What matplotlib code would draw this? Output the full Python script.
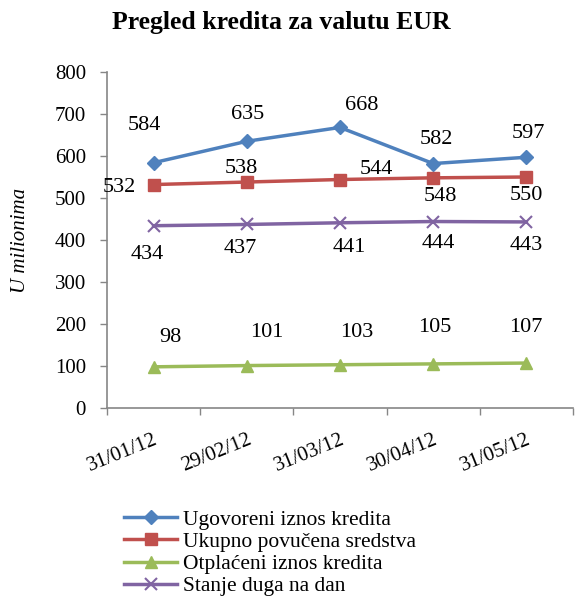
import matplotlib
matplotlib.use('Agg')
import matplotlib.pyplot as plt
import numpy as np

plt.rcParams['font.family'] = ['Liberation Serif', 'DejaVu Serif']

# Data
dates = ['31/01/12', '29/02/12', '31/03/12', '30/04/12', '31/05/12']
ugovoreni = [584, 635, 668, 582, 597]
povucena = [532, 538, 544, 548, 550]
otplaceni = [98, 101, 103, 105, 107]
stanje = [434, 437, 441, 444, 443]

series_names = ['Ugovoreni iznos kredita', 'Ukupno povučena sredstva',
                'Otplaćeni iznos kredita', 'Stanje duga na dan']

# Label offsets in pixels (dx, dy) per point, as placed in the original
label_offsets = {
    0: [(-9, 37), (1, 27), (22, 22), (3, 24), (2, 24)],
    1: [(-34, -3), (-5, 14), (36, 10), (7, -19), (0, -19)],
    2: [(17, 29), (20, 33), (17, 32), (2, 36), (-1, 36)],
    3: [(-6, -29), (-7, -24), (9, -25), (5, -22), (0, -24)],
}

colors = ['#4F81BD', '#C0504D', '#9BBB59', '#8064A2']
markers = ['D', 's', '^', 'x']
msizes = [7, 9, 9, 9]

fig = plt.figure(figsize=(5.75, 6.03), dpi=100)
ax = fig.add_axes([0.186, 0.3234, 0.8105, 0.5572])

x = np.arange(len(dates)) + 0.5
all_series = [ugovoreni, povucena, otplaceni, stanje]

for i, vals in enumerate(all_series):
    ax.plot(x, vals, color=colors[i], marker=markers[i], markersize=msizes[i],
            linewidth=2.5, markeredgewidth=1.5 if markers[i] == 'x' else 1,
            label=series_names[i])
    for j, v in enumerate(vals):
        dx, dy = label_offsets[i][j]
        ax.annotate(str(v), (x[j], v), xytext=(dx * 0.72, dy * 0.72),
                    textcoords='offset points', ha='center', va='center',
                    fontsize=16)

ax.set_xlim(0, len(dates))
ax.set_ylim(0, 800)
ax.set_yticks(range(0, 801, 100))
ax.set_xticks(np.arange(len(dates) + 1))
ax.set_xticklabels([])
ax.set_xticks(x, minor=True)
ax.set_xticklabels(dates, minor=True, rotation=22, ha='right',
                   rotation_mode='anchor', fontsize=15)
ax.tick_params(axis='x', which='minor', length=0, pad=16)
ax.tick_params(axis='x', which='major', length=5, color='#868686', width=1)
ax.tick_params(axis='y', length=5, color='#868686', width=1, labelsize=15, pad=10)

for s in ['top', 'right']:
    ax.spines[s].set_visible(False)
for s in ['left', 'bottom']:
    ax.spines[s].set_color('#868686')
    ax.spines[s].set_linewidth(1.2)

ax.set_ylabel('U milionima', fontsize=15, style='italic', labelpad=18)
fig.suptitle('Pregled kredita za valutu EUR', fontsize=18.5, fontweight='bold',
             x=0.49, y=0.982)

fig.legend(loc='upper left', bbox_to_anchor=(0.2, 0.169), frameon=False,
           fontsize=15.5, handlelength=2.5, handletextpad=0.25, labelspacing=0.1,
           borderaxespad=0)

fig.savefig('out.png', dpi=100)
